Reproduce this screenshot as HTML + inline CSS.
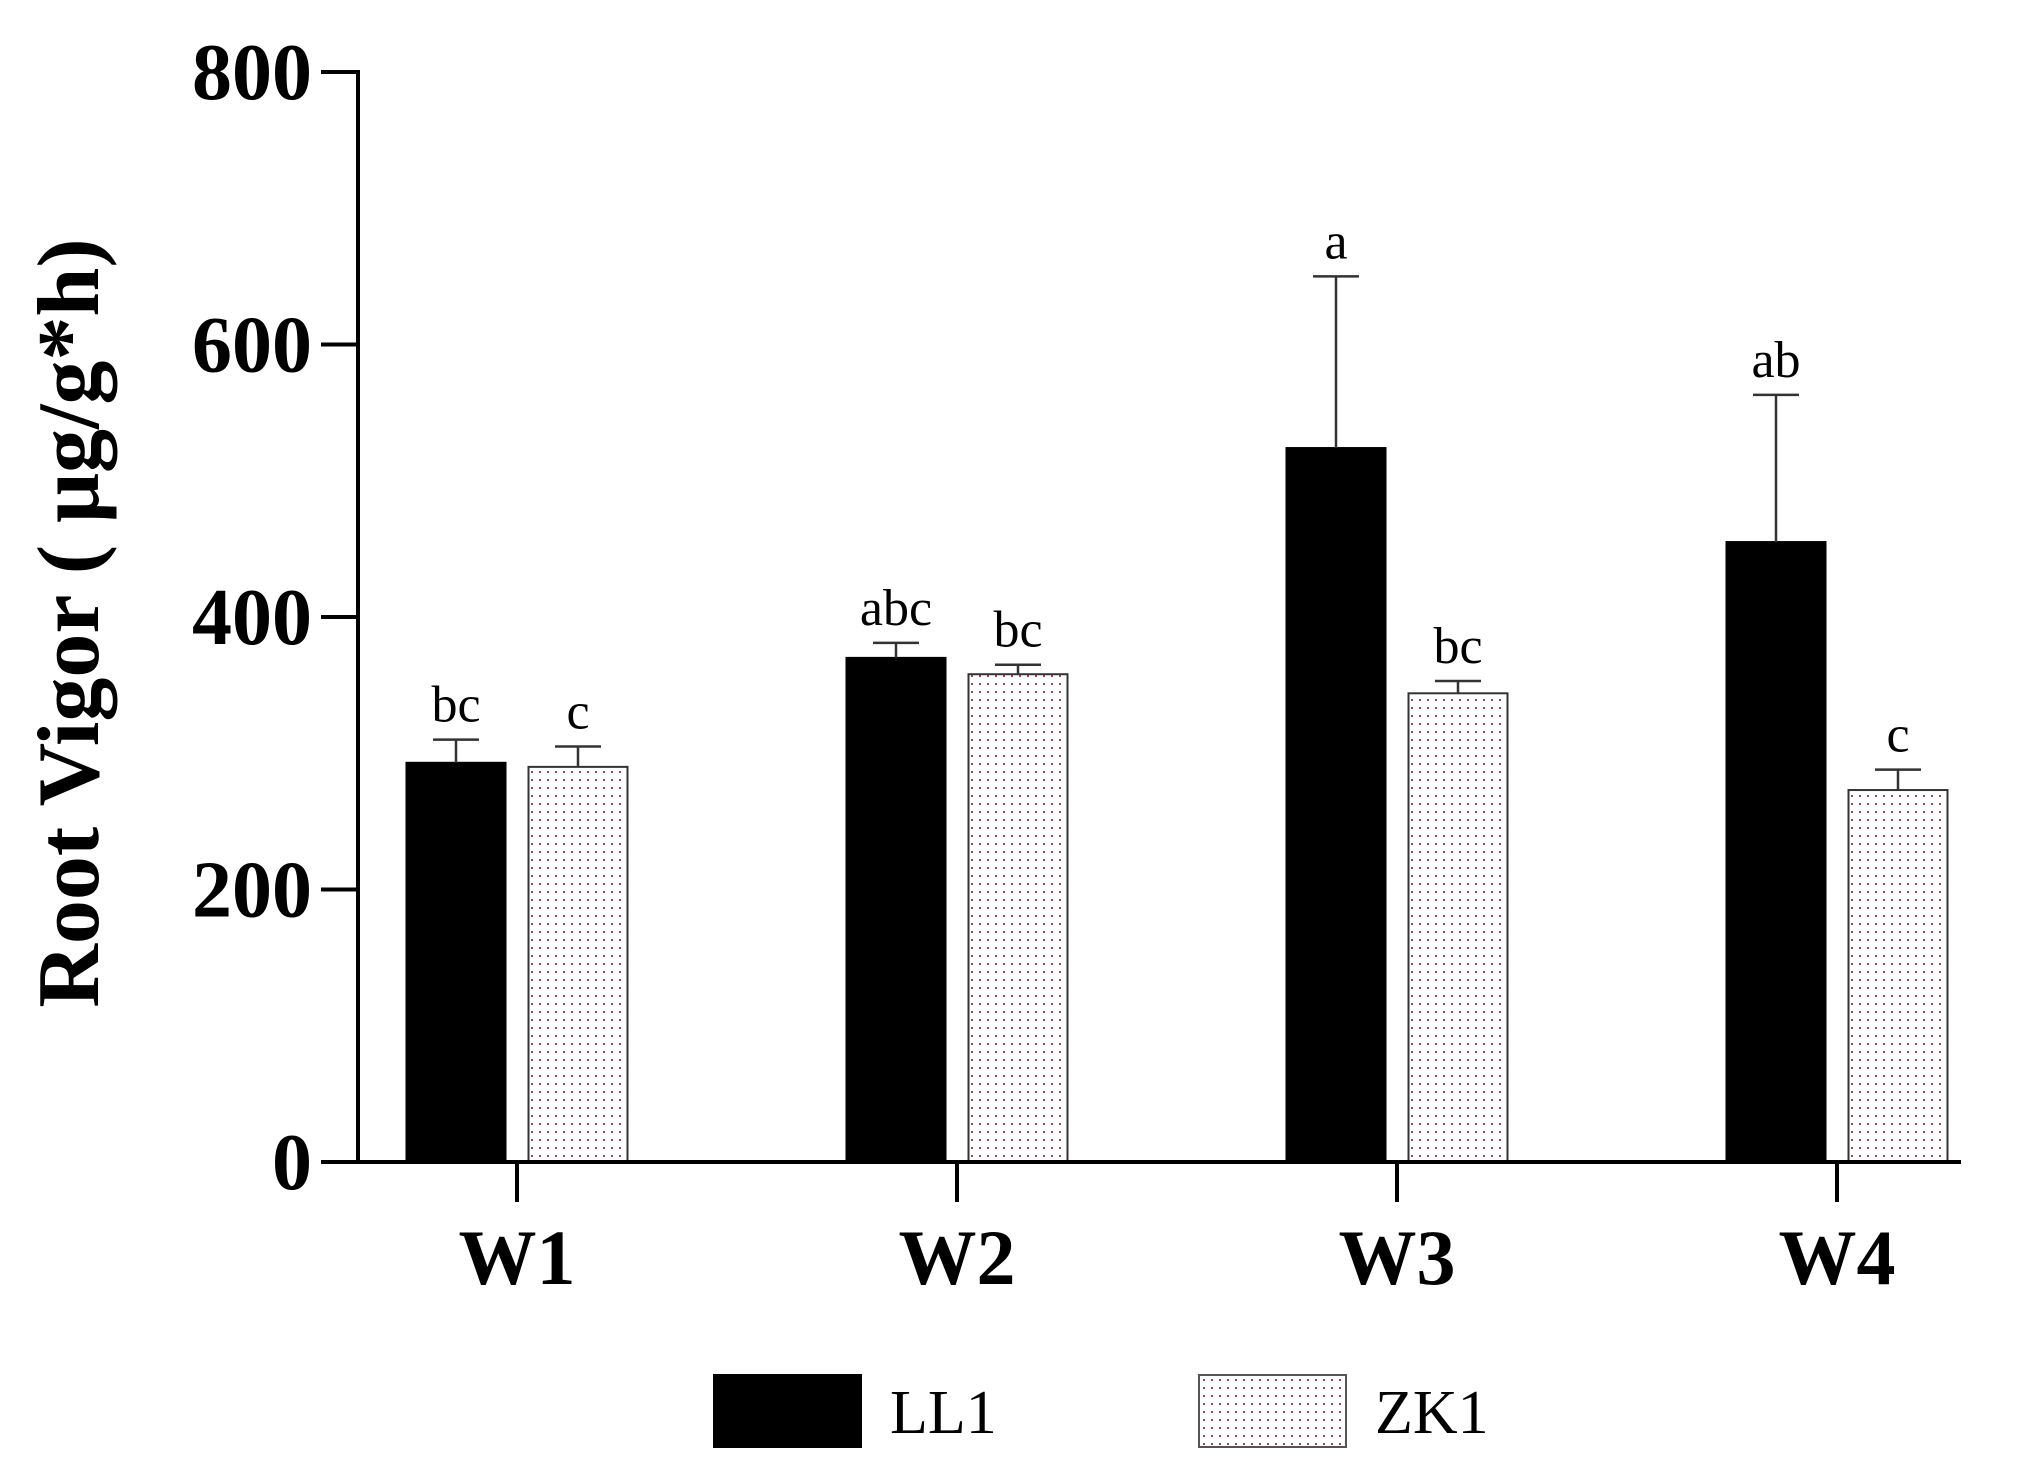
<!DOCTYPE html>
<html><head><meta charset="utf-8"><style>
html,body{margin:0;padding:0;background:#fff;}
svg{display:block;}
text{font-family:"Liberation Serif",serif;fill:#000;}
</style></head><body>
<svg id="chart" width="2036" height="1480" viewBox="0 0 2036 1480">
<defs>
<pattern id="dots" width="8" height="8" patternUnits="userSpaceOnUse">
<rect width="8" height="8" fill="#fff"/>
<rect x="3" y="3" width="2" height="2" fill="#a0485a"/>
</pattern>
</defs>
<g id="plot"></g>
</svg>
<script>
const categories = ["W1","W2","W3","W4"];
const seriesNames = ["LL1","ZK1"];
const ll1Values = [293, 370, 524, 455];
const ll1Errors = [17, 11, 126, 108];
const zk1Values = [290, 358, 344, 273];
const zk1Errors = [15, 7, 9, 15];
const ll1Letters = ["bc","abc","a","ab"];
const zk1Letters = ["c","bc","bc","c"];
const yTicks = [0, 200, 400, 600, 800];

const NS = "http://www.w3.org/2000/svg";
const g = document.getElementById('plot');
const x0 = 358, yBase = 1162, yTop = 72, yMax = 800;
const y = v => yBase - v / yMax * (yBase - yTop);
const xCenter = i => 517 + i * 440;
const barW = 99, off = 61;

function el(tag, attrs, parent) {
  const e = document.createElementNS(NS, tag);
  for (const k in attrs) e.setAttribute(k, attrs[k]);
  (parent || g).appendChild(e);
  return e;
}

const series = [
  {vals: ll1Values, errs: ll1Errors, letters: ll1Letters, fill: "#000", dx: -off, name: "ll1"},
  {vals: zk1Values, errs: zk1Errors, letters: zk1Letters, fill: "url(#dots)", dx: off, name: "zk1"}
];
series.forEach(s => {
  s.vals.forEach((v, i) => {
    const cx = xCenter(i) + s.dx;
    const b = el('rect', {x: cx - barW/2, y: y(v), width: barW, height: yBase - y(v), fill: s.fill, stroke: s.name === 'zk1' ? '#333' : '#000', 'stroke-width': 2});
    
    
    const top = y(v + s.errs[i]);
    const e1 = el('line', {x1: cx, x2: cx, y1: y(v), y2: top, stroke: '#333', 'stroke-width': 2.5});
    
    
    const e2 = el('line', {x1: cx - 23, x2: cx + 23, y1: top, y2: top, stroke: '#333', 'stroke-width': 2.5});
    
    
    const t = el('text', {x: cx, y: top - 18, 'text-anchor': 'middle', 'font-size': 52});
    t.textContent = s.letters[i];
    
    
  });
});

const ya = el('line', {x1: x0, x2: x0, y1: yTop - 2, y2: yBase + 2, stroke: '#000', 'stroke-width': 4});


const xa = el('line', {x1: 321, x2: 1961, y1: yBase, y2: yBase, stroke: '#000', 'stroke-width': 4});



yTicks.forEach(v => {
  const tk = el('line', {x1: 321, x2: x0, y1: y(v), y2: y(v), stroke: '#000', 'stroke-width': 4});
  
  
  const t = el('text', {x: 312, y: y(v) + 27, 'text-anchor': 'end', 'font-size': 80, 'font-weight': 'bold'});
  t.textContent = v;
  
  
});

categories.forEach((c, i) => {
  const tk = el('line', {x1: xCenter(i), x2: xCenter(i), y1: yBase, y2: yBase + 40, stroke: '#000', 'stroke-width': 4});
  
  
  const t = el('text', {x: xCenter(i), y: 1284, 'text-anchor': 'middle', 'font-size': 78, 'font-weight': 'bold'});
  t.textContent = c;
  
  
});

const yt = el('text', {x: 0, y: 0, transform: 'translate(98,623) rotate(-90)', 'text-anchor': 'middle', 'font-size': 88, 'font-weight': 'bold'});
yt.textContent = 'Root Vigor ( μg/g*h)';



const legendX = [714, 1199];
seriesNames.forEach((n, i) => {
  const r = el('rect', {x: legendX[i], y: 1375, width: 147, height: 72, fill: i === 0 ? '#000' : 'url(#dots)', stroke: i === 0 ? '#000' : '#555', 'stroke-width': 2});
  
  
  const t = el('text', {x: legendX[i] + 176, y: 1433, 'font-size': 62});
  t.textContent = n;
  
  
});
</script>
</body></html>
